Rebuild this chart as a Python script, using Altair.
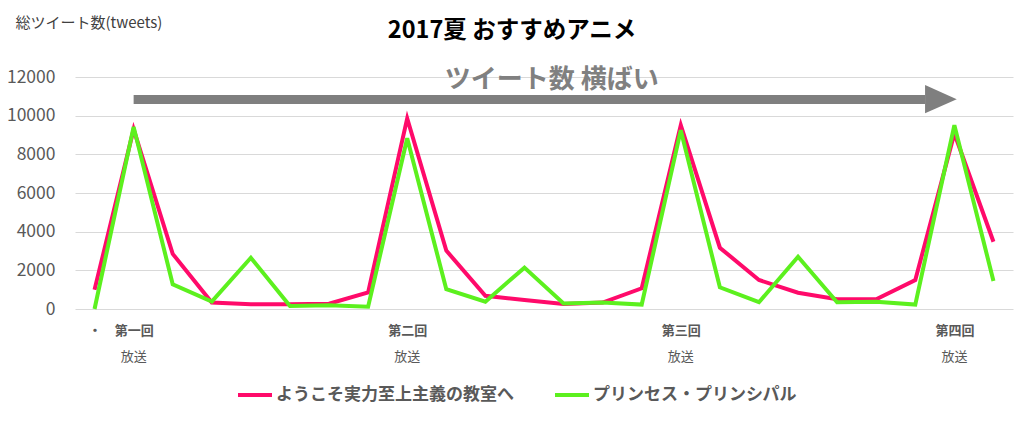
import altair as alt
import pandas as pd

# ---- data ----
days = list(range(24))
yokoso = [1000, 9300, 2850, 330, 240, 240, 270, 860, 9860, 3020, 680, 470, 260, 330,
          1070, 9510, 3170, 1500, 840, 500, 500, 1500, 9080, 3480]
princess = [0, 9420, 1280, 380, 2650, 160, 200, 120, 8830, 1020, 380, 2140, 290, 330,
            230, 9250, 1120, 350, 2700, 350, 380, 230, 9510, 1450]
series_names = ["ようこそ実力至上主義の教室へ", "プリンセス・プリンシパル"]
series_colors = ["#FF0A6A", "#5CF01E"]

y_ticks = [0, 2000, 4000, 6000, 8000, 10000, 12000]
tick_positions = [0, 1, 8, 15, 22]
tick_labels = ["・", "第一回", "第二回", "第三回", "第四回"]
broadcast_positions = [1, 8, 15, 22]
broadcast_label = "放送"

chart_title = "2017夏 おすすめアニメ"
annotation_text = "ツイート数 横ばい"
annotation_x = 11.7
annotation_y = 11850
arrow_start = 1
arrow_head_base = 21.25
arrow_tip = 22.06
arrow_body_low, arrow_body_high = 10600, 11070
arrow_head_low, arrow_head_high = 10130, 11590
arrow_mid = 10850

FONT = "Noto Sans CJK JP"

df = pd.DataFrame({
    "day": days * 2,
    "tweets": yokoso + princess,
    "series": [series_names[0]] * len(days) + [series_names[1]] * len(days),
    "order": [0] * len(days) + [1] * len(days),
})

label_map = "{" + ",".join(f"'{p}':'{l}'" for p, l in zip(tick_positions, tick_labels)) + "}"

x_scale = alt.Scale(domain=[-0.5, 23.5], nice=False, zero=False)
y_scale = alt.Scale(domain=[0, 12000], nice=False)

x_axis = alt.Axis(values=tick_positions, labelExpr=f"{label_map}[datum.value]",
                  title=None, grid=False, domain=False, ticks=False, tickSize=0,
                  labelFont=FONT, labelFontSize=13, labelFontWeight="bold",
                  labelColor="#595959", labelPadding=15, labelOverlap=False)
y_axis = alt.Axis(values=y_ticks, format="d",
                  title="総ツイート数(tweets)", titleAngle=0, titleAlign="left",
                  titleBaseline="middle", titleX=-60, titleY=-55,
                  titleFont=FONT, titleFontSize=15, titleFontWeight="normal",
                  titleColor="#404040",
                  domain=False, ticks=False, tickSize=0, labelOverlap=False,
                  labelFont=FONT, labelFontSize=17.5, labelColor="#595959",
                  labelPadding=20, gridColor="#d9d9d9", gridWidth=1)

body_df = pd.DataFrame({"x": [arrow_start, arrow_head_base],
                        "lo": [arrow_body_low] * 2, "hi": [arrow_body_high] * 2})
body = alt.Chart(body_df).mark_area(color="#7f7f7f", opacity=1).encode(
    x=alt.X("x:Q", scale=x_scale, axis=x_axis),
    y=alt.Y("lo:Q", scale=y_scale, axis=y_axis), y2="hi:Q")

head_df = pd.DataFrame({"x": [arrow_head_base, arrow_tip],
                        "lo": [arrow_head_low, arrow_mid], "hi": [arrow_head_high, arrow_mid]})
head = alt.Chart(head_df).mark_area(color="#7f7f7f", opacity=1).encode(
    x=alt.X("x:Q", scale=x_scale, axis=x_axis),
    y=alt.Y("lo:Q", scale=y_scale, axis=y_axis), y2="hi:Q")

ann_df = pd.DataFrame({"x": [annotation_x], "y": [annotation_y], "t": [annotation_text]})
ann = alt.Chart(ann_df).mark_text(
    font=FONT, fontSize=26, fontWeight="bold", color="#808080", baseline="middle"
).encode(x=alt.X("x:Q", scale=x_scale, axis=x_axis),
         y=alt.Y("y:Q", scale=y_scale, axis=y_axis), text="t:N")

lines = alt.Chart(df).mark_line(strokeWidth=4, strokeJoin="miter").encode(
    x=alt.X("day:Q", scale=x_scale, axis=x_axis),
    y=alt.Y("tweets:Q", scale=y_scale, axis=y_axis),
    color=alt.Color("series:N",
                    scale=alt.Scale(domain=series_names, range=series_colors),
                    sort=series_names,
                    legend=alt.Legend(orient="none", legendX=161, legendY=299,
                                      direction="horizontal", title=None,
                                      symbolType="stroke", symbolSize=1156,
                                      symbolStrokeWidth=4, labelFont=FONT,
                                      labelFontSize=17, labelFontWeight="bold",
                                      labelColor="#595959", labelOffset=2,
                                      labelLimit=0, columnPadding=33, padding=0)),
    order=alt.Order("order:Q"),
    detail="series:N",
)

broadcast_df = pd.DataFrame({"day": broadcast_positions,
                             "label": [broadcast_label] * len(broadcast_positions)})
broadcast = alt.Chart(broadcast_df).mark_text(
    font=FONT, fontSize=13, color="#595959", baseline="middle"
).encode(x=alt.X("day:Q", scale=x_scale, axis=x_axis), y=alt.value(280), text="label:N")

title_df = pd.DataFrame({"t": [chart_title]})
title = alt.Chart(title_df).mark_text(
    font=FONT, fontSize=23.5, fontWeight="bold", color="#000000", baseline="middle",
    align="center"
).encode(x=alt.value(437), y=alt.value(-46), text="t:N")

chart = alt.layer(body, head, ann, lines, broadcast, title).properties(
    width=938, height=232,
    autosize=alt.AutoSizeParams(type="none"),
    padding={"left": 75, "top": 77, "right": 11, "bottom": 126},
    background="white",
).configure_view(stroke=None)

chart.save("out.html", embed_options={"renderer": "svg", "actions": False})
